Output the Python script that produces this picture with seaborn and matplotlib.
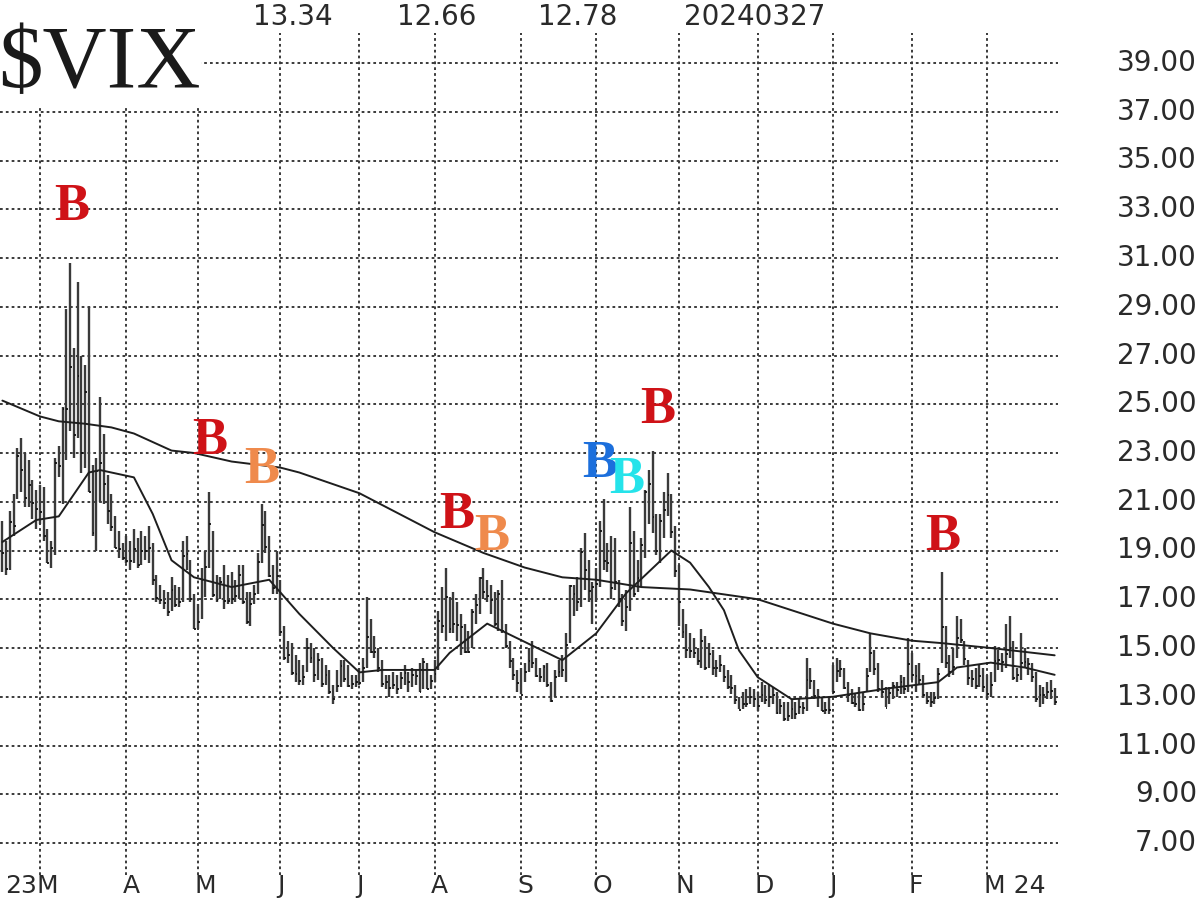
import matplotlib
matplotlib.use("Agg")
import pandas as pd
import matplotlib.pyplot as plt
import seaborn as sns
from matplotlib.transforms import blended_transform_factory

sns.set_style("white")
plt.rcParams["font.family"] = ["DejaVu Sans"]

# trading calendar (NYSE holidays in the window)
HOLIDAYS = ["2023-02-20", "2023-04-07", "2023-05-29", "2023-06-19", "2023-07-04",
            "2023-09-04", "2023-11-23", "2023-12-25", "2024-01-01", "2024-01-15",
            "2024-02-19"]

# daily $VIX high / low / close (Feb 14 2023 .. Mar 27 2024)
high = [
    # feb 23
    20.2, 19.4, 20.6, 21.3, 23.2, 23.6, 23.0, 22.7, 21.9, 21.5,
    # mar
    21.7, 21.6, 19.9, 19.4, 22.8, 23.3, 24.9, 28.9, 30.8, 27.3, 30.0, 27.0,
    26.6, 29.0, 22.5, 22.8, 25.3, 23.8, 22.1, 21.3, 20.4, 19.8, 19.3,
    # apr
    19.6, 19.4, 19.9, 19.5, 19.8, 19.6, 20.0, 19.3, 18.0, 17.6, 17.4, 17.3,
    17.9, 17.6, 17.5, 19.4, 19.6, 18.6, 17.2,
    # may
    16.8, 18.3, 19.0, 21.4, 19.8, 18.0, 17.9, 18.4, 18.0, 18.1, 17.8, 18.4,
    18.4, 17.3, 17.3, 17.6, 18.9, 20.9, 20.6, 19.6, 18.4, 19.0,
    # jun
    17.8, 15.9, 15.3, 15.2, 14.7, 14.5, 14.3, 15.4, 15.2, 15.0, 14.8, 14.6,
    14.3, 14.1, 13.5, 14.1, 14.5, 14.5, 14.3, 13.9, 13.9,
    # jul
    14.2, 14.6, 17.1, 16.2, 15.5, 15.0, 14.5, 13.9, 13.9, 14.0, 13.9, 14.0,
    14.3, 14.0, 14.2, 14.1, 14.4, 14.6, 14.4, 13.9,
    # aug
    14.5, 16.5, 17.5, 18.3, 17.1, 17.3, 16.9, 16.4, 16.0, 15.7, 16.6, 17.2,
    17.9, 18.3, 17.8, 17.6, 17.3, 17.4, 17.8, 16.0, 15.3, 14.6, 14.1,
    # sep
    14.2, 14.4, 15.0, 15.3, 14.6, 14.2, 14.3, 14.4, 13.6, 14.1, 14.5, 14.7,
    15.6, 17.6, 17.6, 17.9, 19.1, 19.7, 18.6, 17.7,
    # oct
    18.3, 20.2, 21.1, 19.3, 19.6, 19.5, 17.8, 17.2, 17.4, 20.8, 19.8, 18.6,
    19.5, 21.5, 22.3, 23.1, 20.5, 20.5, 21.4, 22.2, 21.3, 20.0,
    # nov
    18.4, 16.6, 16.0, 15.6, 15.4, 15.0, 15.8, 15.5, 15.2, 14.9, 14.5, 14.7,
    14.3, 14.1, 13.9, 13.5, 13.0, 13.2, 13.3, 13.4, 13.3,
    # dec
    13.2, 13.6, 13.5, 13.5, 13.4, 13.2, 12.9, 12.8, 12.8, 12.9, 12.8, 12.9,
    12.8, 14.6, 14.2, 13.7, 13.3, 13.0, 12.8, 13.0,
    # jan 24
    14.3, 14.6, 14.5, 14.2, 13.6, 13.3, 13.1, 13.4, 13.2, 14.2, 15.6, 14.9,
    14.4, 13.7, 13.4, 13.4, 13.6, 13.6, 13.9, 13.8, 15.4,
    # feb
    14.8, 14.3, 14.4, 13.9, 13.2, 13.2, 13.2, 14.2, 18.1, 15.9, 14.7, 15.0,
    16.3, 16.2, 15.3, 14.5, 14.1, 14.2, 14.3, 14.2,
    # mar
    13.9, 14.0, 15.1, 14.9, 14.8, 16.0, 16.3, 15.3, 14.2, 15.6, 15.0, 14.6,
    14.4, 14.0, 13.5, 13.4, 13.6, 13.7, 13.34,
]

low = [
    18.1, 18.0, 18.2, 19.6, 21.1, 21.4, 20.8, 20.8, 20.3, 19.9,
    20.1, 19.4, 18.5, 18.3, 18.8, 22.0, 20.9, 22.7, 23.9, 22.8, 23.6, 22.2,
    22.4, 21.4, 19.6, 19.0, 21.0, 20.9, 20.1, 19.8, 19.1, 18.7, 18.6,
    18.5, 18.2, 18.5, 18.3, 18.4, 18.6, 18.5, 17.6, 16.9, 16.8, 16.6, 16.3,
    16.5, 16.7, 16.7, 16.9, 18.2, 16.9, 15.8,
    15.8, 16.2, 17.1, 18.3, 17.1, 16.9, 17.0, 16.6, 16.8, 16.8, 16.9, 17.0,
    16.8, 16.0, 15.9, 16.8, 17.2, 18.5, 18.9, 17.9, 17.2, 17.2,
    15.5, 14.5, 14.4, 13.9, 13.6, 13.5, 13.5, 14.0, 14.4, 13.6, 13.7, 13.4,
    13.5, 13.1, 12.7, 13.2, 13.4, 13.6, 13.4, 13.3, 13.4,
    13.5, 13.6, 14.2, 14.8, 14.6, 14.0, 13.4, 13.3, 13.0, 13.3, 13.1, 13.3,
    13.5, 13.2, 13.4, 13.5, 13.2, 13.3, 13.3, 13.3,
    13.6, 14.1, 15.6, 15.3, 15.6, 15.6, 15.3, 14.7, 14.8, 14.8, 15.0, 16.0,
    16.4, 17.0, 16.9, 16.4, 15.9, 15.7, 15.6, 15.0, 14.2, 13.7, 13.2,
    13.1, 13.6, 14.0, 14.2, 13.8, 13.6, 13.6, 13.4, 12.8, 13.0, 13.8, 13.8,
    13.6, 15.2, 16.3, 16.5, 16.7, 17.4, 16.9, 16.0,
    16.9, 17.5, 18.2, 18.1, 17.0, 17.4, 16.7, 15.9, 15.7, 16.5, 17.1, 17.3,
    17.5, 18.7, 20.1, 19.7, 18.8, 18.5, 19.5, 20.4, 19.5, 17.9,
    15.9, 15.4, 14.6, 14.6, 14.6, 14.3, 14.2, 14.1, 14.2, 13.9, 13.8, 14.0,
    13.6, 13.3, 13.1, 12.7, 12.5, 12.5, 12.6, 12.7, 12.6,
    12.4, 12.8, 12.7, 12.6, 12.7, 12.3, 12.3, 12.0, 12.0, 12.1, 12.1, 12.3,
    12.3, 12.4, 13.3, 12.9, 12.6, 12.4, 12.3, 12.3,
    13.2, 13.6, 13.8, 13.3, 12.8, 12.7, 12.6, 12.4, 12.4, 13.2, 14.0, 13.9,
    13.2, 13.0, 12.6, 12.7, 12.9, 13.0, 13.1, 13.1, 13.2,
    13.7, 13.2, 13.5, 13.0, 12.7, 12.6, 12.7, 12.9, 14.4, 14.2, 13.8, 13.9,
    14.6, 15.2, 14.3, 13.5, 13.4, 13.3, 13.4, 13.2,
    12.9, 13.0, 13.6, 14.1, 14.0, 14.2, 14.6, 13.7, 13.6, 13.7, 14.2, 13.9,
    13.6, 12.8, 12.6, 12.7, 12.9, 12.9, 12.66,
]

close = [
    18.91, 18.23, 20.17, 20.02, 22.87, 22.29, 21.14, 21.67, 20.95, 20.70,
    20.58, 19.59, 18.49, 19.10, 22.61, 22.46, 24.80, 24.80, 26.52, 23.73, 26.14, 22.99,
    25.51, 21.38, 19.73, 22.26, 22.61, 21.74, 20.60, 19.97, 19.12, 19.08, 18.70,
    18.55, 18.58, 19.08, 18.40, 18.97, 18.97, 19.09, 17.80, 17.07, 16.95, 16.83, 16.46,
    17.40, 16.77, 16.89, 18.76, 18.84, 17.03, 15.78,
    16.08, 17.78, 18.34, 20.09, 17.19, 16.98, 17.71, 16.94, 16.93, 17.03, 17.12, 17.99,
    16.87, 16.05, 16.81, 17.21, 18.53, 20.03, 19.14, 17.95, 17.46, 17.94,
    15.65, 14.60, 14.73, 13.96, 13.94, 13.65, 13.83, 15.01, 14.61, 13.88, 14.50, 13.54,
    13.88, 13.20, 12.91, 13.44, 14.25, 13.74, 13.43, 13.54, 13.59,
    13.57, 14.18, 15.44, 14.83, 14.84, 14.18, 13.54, 13.61, 13.34, 13.48, 13.30, 13.76,
    13.99, 13.60, 13.91, 13.86, 13.19, 14.41, 13.33, 13.63,
    13.93, 16.09, 15.92, 17.10, 15.77, 15.99, 15.96, 15.85, 14.84, 14.82, 16.46, 16.78,
    17.89, 17.30, 17.13, 16.97, 15.98, 17.20, 15.68, 15.08, 14.45, 13.88, 13.57,
    13.09, 14.02, 14.45, 14.40, 13.84, 13.80, 14.23, 13.48, 12.82, 13.79, 14.00, 14.11,
    15.14, 17.54, 17.20, 16.90, 18.94, 18.22, 17.34, 17.52,
    17.61, 19.78, 18.58, 18.49, 17.45, 17.70, 17.03, 16.09, 16.69, 19.32, 17.21, 17.88,
    19.22, 21.40, 21.71, 20.37, 18.97, 20.19, 20.68, 21.27, 19.75, 18.14,
    16.87, 15.66, 14.91, 14.89, 14.81, 14.45, 15.29, 14.17, 14.76, 14.16, 14.18, 14.32,
    13.80, 13.41, 13.35, 12.85, 12.46, 12.69, 12.69, 12.98, 12.92,
    12.63, 13.08, 12.85, 12.97, 13.06, 12.35, 12.63, 12.07, 12.19, 12.48, 12.28, 12.56,
    12.53, 13.67, 13.65, 13.03, 12.99, 12.43, 12.47, 12.45,
    13.20, 14.04, 14.13, 13.35, 13.08, 12.76, 12.69, 12.44, 12.70, 13.84, 14.79, 14.13,
    13.30, 13.19, 12.55, 13.14, 13.45, 13.26, 13.60, 13.31, 14.35,
    13.88, 13.85, 13.67, 13.06, 12.83, 12.79, 12.93, 13.93, 15.85, 14.38, 14.01, 14.24,
    15.42, 15.34, 14.54, 13.75, 13.74, 13.43, 13.84, 13.40,
    13.11, 13.49, 14.46, 14.50, 14.44, 14.74, 15.02, 13.75, 13.88, 14.40, 14.41, 14.33,
    13.82, 12.92, 13.06, 13.06, 13.19, 13.24, 12.78,
]

# moving averages (trading-day index, value)
ma20_day = [0, 9, 15, 23, 26, 35, 40, 45, 51, 61, 71, 79, 88, 95, 101, 115, 119, 129,
            149, 158, 166, 178, 183, 188, 192, 196, 201, 210, 221, 236, 249, 254, 263,
            272, 280]
ma20_val = [19.35, 20.25, 20.4, 22.2, 22.3, 22.0, 20.5, 18.6, 17.9, 17.5, 17.8, 16.4,
            15.0, 14.0, 14.1, 14.1, 14.8, 16.0, 14.5, 15.6, 17.25, 19.0, 18.5, 17.5,
            16.55, 14.9, 13.8, 12.9, 13.0, 13.35, 13.6, 14.2, 14.4, 14.2, 13.9]

ma200_day = [0, 10, 15, 22, 29, 35, 45, 51, 61, 74, 79, 95, 115, 128, 139, 149, 158,
             170, 183, 201, 221, 231, 242, 250, 263, 280]
ma200_val = [25.15, 24.5, 24.3, 24.2, 24.05, 23.8, 23.1, 23.0, 22.65, 22.4, 22.2, 21.35,
             19.75, 18.9, 18.3, 17.9, 17.8, 17.5, 17.4, 17.0, 16.0, 15.6, 15.3, 15.2,
             15.0, 14.7]

# buy signals: trading-day index, level, colour
sig_day = [18.5, 55.2, 69.1, 121.0, 130.3, 159.0, 166.2, 174.5, 250.3]
sig_val = [33.1, 23.5, 22.3, 20.45, 19.55, 22.55, 21.9, 24.75, 19.55]
sig_col = ["#cf1217", "#cf1217", "#ef8a4c", "#cf1217", "#ef8a4c",
           "#1c6fdc", "#25e3ea", "#cf1217", "#cf1217"]

header = ["13.34", "12.66", "12.78", "20240327"]
header_x = [293, 437, 578, 755]

MONTH_LETTER = "JFMAMJJASOND"

dates = pd.bdate_range("2023-02-14", "2024-03-27", freq="C", holidays=HOLIDAYS)
df = pd.DataFrame({"date": dates, "high": high, "low": low, "close": close})
df["day"] = range(len(df))

month_start = df.groupby(df["date"].dt.to_period("M"))["day"].min().iloc[1:]

W, H = 1200, 900
fig = plt.figure(figsize=(12, 9), dpi=100)
ax_top, ax_bot, ax_right = 33, 875, 1058
ax = fig.add_axes([0, (H - ax_bot) / H, ax_right / W, (ax_bot - ax_top) / H])

px_per_day = 3.758
x0 = 2.4
ax.set_xlim(-x0 / px_per_day, (ax_right - x0) / px_per_day)
px_per_unit = 24.375
ax.set_ylim(39 - (ax_bot - 63) / px_per_unit, 39 + (63 - ax_top) / px_per_unit)

# grid
ax.set_xticks(month_start.values)
ax.set_yticks(range(7, 40, 2))
ax.grid(True, color="#3a3a3a", linestyle=(0, (1.4, 1.6)), linewidth=1.4)
ax.set_axisbelow(True)
ax.tick_params(labelbottom=False, labelleft=False, length=0)
for s in ax.spines.values():
    s.set_visible(False)

# daily range bars + close ticks
ax.vlines(df["day"], df["low"], df["high"], color="#3a3a3a", linewidth=1.7, zorder=2)
ax.hlines(df["close"], df["day"], df["day"] + 0.5, color="#111111", linewidth=1.3, zorder=2)

# moving averages
sns.lineplot(x=ma200_day, y=ma200_val, ax=ax, color="#1e1e1e", linewidth=1.4,
             estimator=None, sort=False, zorder=3)
sns.lineplot(x=ma20_day, y=ma20_val, ax=ax, color="#1e1e1e", linewidth=1.4,
             estimator=None, sort=False, zorder=3)

# B signals
for d, v, c in zip(sig_day, sig_val, sig_col):
    ax.text(d, v, "B", color=c, fontsize=38, fontweight="bold",
            family="Liberation Serif", ha="center", va="center", zorder=5)

# right-hand price labels
trans_y = blended_transform_factory(ax.transAxes, ax.transData)
for v in range(7, 40, 2):
    ax.text(1197 / ax_right, v, f"{v:.2f}", transform=trans_y, ha="right",
            va="center", fontsize=20, color="#2a2a2a", clip_on=False)

# month labels
trans_x = blended_transform_factory(ax.transData, ax.transAxes)
ylab = (H - 886 - (H - ax_bot)) / (ax_bot - ax_top)
for k, (per, d) in enumerate(month_start.items()):
    lab = MONTH_LETTER[per.month - 1]
    if k == len(month_start) - 1:
        lab = lab + " 24"
    ax.text(d - 0.9, ylab, lab, transform=trans_x, ha="left", va="center",
            fontsize=18, color="#2a2a2a", clip_on=False)
    if k == 0:
        ax.text(d - 0.9, ylab, "23", transform=trans_x, ha="right", va="center",
                fontsize=18, color="#2a2a2a", clip_on=False)

# header values
for txt, xp in zip(header, header_x):
    fig.text(xp / W, 1 - 17 / H, txt, ha="center", va="center", fontsize=20,
             color="#2a2a2a")

fig.text(-2 / W, 1 - 87 / H, r"\$VIX", family="Liberation Serif", fontsize=64,
         ha="left", va="baseline", color="#1a1a1a",
         bbox=dict(facecolor="white", edgecolor="none", pad=0.5))

fig.savefig("out.png", dpi=100, facecolor="white")
